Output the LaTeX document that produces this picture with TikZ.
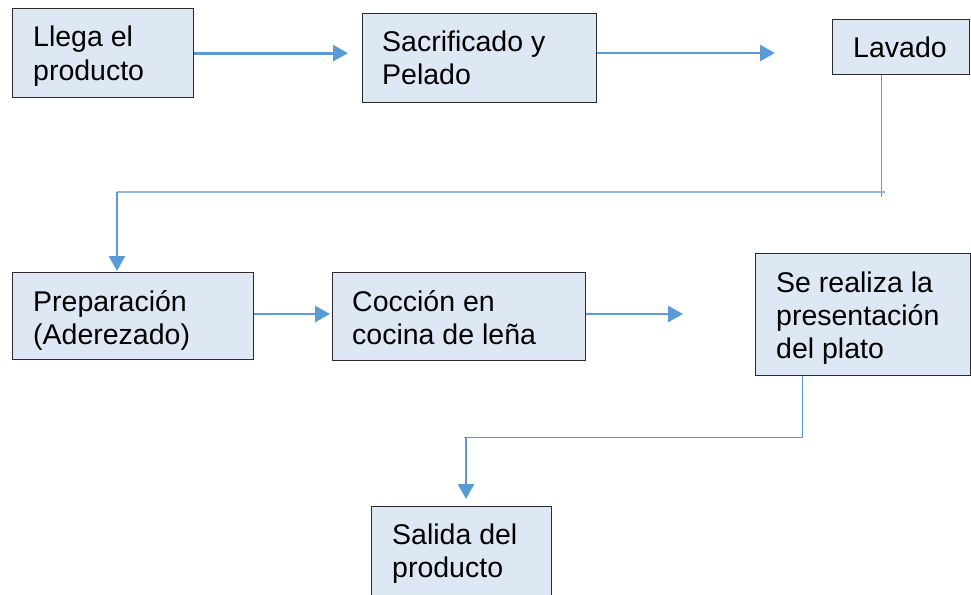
\documentclass[tikz,border=0pt]{standalone}
\usepackage{fontspec}
\setmainfont{Liberation Sans}
\usetikzlibrary{arrows.meta,calc}
\definecolor{boxfill}{HTML}{DEE8F4}
\definecolor{boxline}{HTML}{2B2B2B}
\definecolor{arrblue}{HTML}{5B9BD5}
\definecolor{lineblue}{HTML}{8DB4E2}
\begin{document}
\begin{tikzpicture}[x=1pt,y=-1pt,
  box/.style={draw=boxline, fill=boxfill, line width=1.3pt, anchor=north west, inner sep=0pt},
  txt/.style={anchor=base west, inner sep=0pt, font=\fontsize{28.5}{33}\selectfont},
  arr/.style={draw=arrblue, line width=2.8pt, -{Triangle[length=15pt,width=16pt]}},
  thinline/.style={draw=arrblue, line width=1pt},
  wideline/.style={draw=lineblue, line width=2pt}]
\useasboundingbox (0,0) rectangle (971,594);
\clip (0,0) rectangle (971,594);
% boxes
\node[box, minimum width=181pt, minimum height=89pt] (b1) at (12,8) {};
\node[box, minimum width=234pt, minimum height=89pt] (b2) at (362,13) {};
\node[box, minimum width=137pt, minimum height=55pt] (b3) at (832,19) {};
\node[box, minimum width=241pt, minimum height=87pt] (b4) at (12,272) {};
\node[box, minimum width=253pt, minimum height=88pt] (b5) at (332,272) {};
\node[box, minimum width=215pt, minimum height=122pt] (b6) at (755,253) {};
\node[box, minimum width=180pt, minimum height=100pt] (b7) at (371,506) {};
% texts
\node[txt] (t1) at ($(b1.north west)+(21,39)$) {\vtop{\hbox{Llega el}\hbox{producto}}};
\node[txt] (t2) at ($(b2.north west)+(20,39)$) {\vtop{\hbox{Sacrificado y}\hbox{Pelado}}};
\node[txt] (t3) at ($(b3.north west)+(21,38)$) {Lavado};
\node[txt] (t4) at ($(b4.north west)+(21,39)$) {\vtop{\hbox{Preparación}\hbox{(Aderezado)}}};
\node[txt] (t5) at ($(b5.north west)+(20,39)$) {\vtop{\hbox{Cocción en}\hbox{cocina de leña}}};
\node[txt] (t6) at ($(b6.north west)+(21,39)$) {\vtop{\hbox{Se realiza la}\hbox{presentación}\hbox{del plato}}};
\node[txt] (t7) at ($(b7.north west)+(21,38)$) {\vtop{\hbox{Salida del}\hbox{producto}}};
% coordinates
\coordinate (e2) at (775,53);
\coordinate (e4) at (683,314);
\coordinate (v1) at (881,197);
\coordinate (h1) at (885,192);
\coordinate (h2) at (117,192);
\coordinate (v2) at (802,437);
\coordinate (h3) at (464,437);
\coordinate (h4) at (466,437);
\coordinate (e7) at (466,499);
% connectors
\draw[arr] (b1.east) -- ([xshift=-14pt]b2.west |- b1.east);
\draw[arr] (b2.east |- e2) -- (e2);
\draw[thinline] (b3.south -| v1) -- (v1);
\draw[wideline] (h1) -- (h2);
\draw[arr] (h2) -- ([yshift=1pt]b4.north -| h2);
\draw[arr] (b4.east |- e4) -- ([xshift=-2pt]b5.west |- e4);
\draw[arr] (b5.east |- e4) -- (e4);
\draw[thinline] (b6.south -| v2) -- (v2) -- (h3);
\draw[arr] (h4) -- (e7);
\end{tikzpicture}
\end{document}
